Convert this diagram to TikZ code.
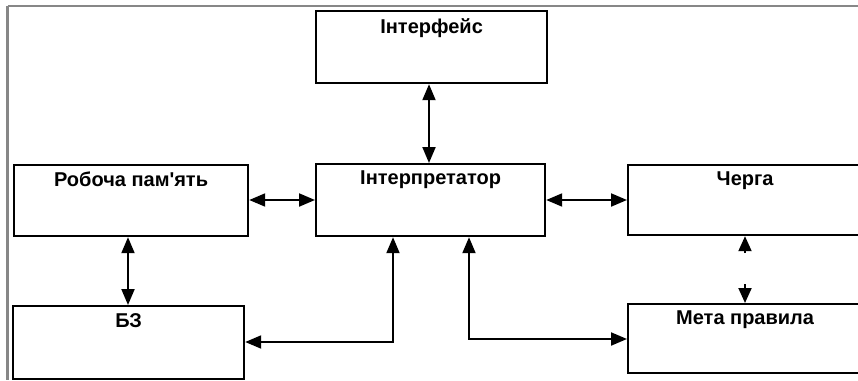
\documentclass[tikz,border=0pt]{standalone}
\usepackage{fontspec}
\setmainfont{Liberation Sans}
\usetikzlibrary{arrows.meta,calc}
\tikzset{
  box/.style={draw=black, line width=2.2pt, minimum width=232pt, minimum height=71pt, inner sep=0pt, anchor=north west},
  lbl/.style={font=\bfseries\fontsize{20}{22}\selectfont, anchor=north, inner sep=0pt, yshift=-8pt},
  conn/.style={line width=2pt, {Triangle[length=16pt,width=13pt]}-{Triangle[length=16pt,width=13pt]}},
  headonly/.style={line width=2pt, -{Triangle[length=15pt,width=13pt]}},
  frame/.style={draw=black!47, line width=2.4pt}
}
\begin{document}
\begin{tikzpicture}[x=1pt,y=-1pt]
\useasboundingbox (0,0) rectangle (858,380);
\clip (0,0) rectangle (858,380);
\draw[frame] (7.5,6) -- (858,6);
\draw[frame] (7.5,6) -- (7.5,380);

\node[box, minimum width=231pt, minimum height=72pt, label={[lbl]north:Інтерфейс}] (intf) at (315,10) {};
\node[box, minimum width=229pt, minimum height=72pt, label={[lbl]north:Інтерпретатор}] (interp) at (315,163) {};
\node[box, minimum width=234pt, minimum height=71pt, label={[lbl]north:Робоча пам\textquotesingle ять}] (rob) at (13,164) {};
\node[box, minimum width=231pt, minimum height=73pt, label={[lbl]north:БЗ}] (bz) at (12,305) {};
\node[box, minimum width=234pt, minimum height=70pt, label={[lbl]north:Черга}] (cherga) at (627,164) {};
\node[box, minimum width=234pt, minimum height=69pt, label={[lbl]north:Мета правила}] (meta) at (627,303) {};

\draw[conn] (intf.south -| 429,0) -- (interp.north -| 429,0);
\draw[conn] (rob.east |- 0,200) -- (interp.west |- 0,200);
\draw[conn] (interp.east |- 0,200) -- (cherga.west |- 0,200);
\draw[conn] (rob.south -| 128,0) -- (bz.north -| 128,0);

\coordinate (c1) at (393,342);
\draw[conn] (interp.south -| c1) -- (c1) -- (bz.east |- c1);
\coordinate (c2) at (469,339);
\draw[conn] (interp.south -| c2) -- (c2) -- (meta.west |- c2);

\coordinate (h1) at (745,253);
\coordinate (h2) at (745,284);
\draw[headonly] (h1) -- (cherga.south -| h1);
\draw[headonly] (h2) -- (meta.north -| h2);
\end{tikzpicture}
\end{document}
